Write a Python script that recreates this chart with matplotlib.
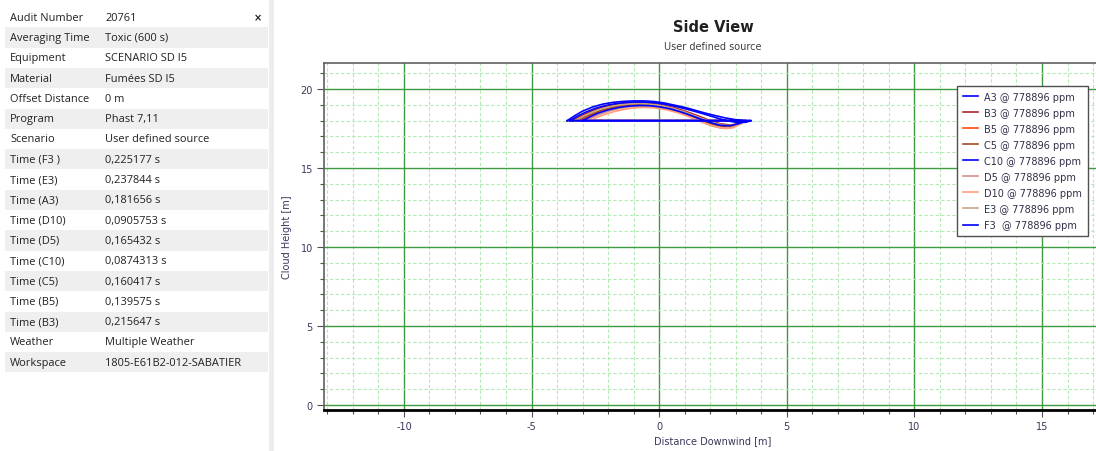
import matplotlib
matplotlib.use("Agg")
import matplotlib.pyplot as plt
from matplotlib.patches import Rectangle
from matplotlib.ticker import MultipleLocator

# ---------------- data ----------------
table_labels = ["Audit Number", "Averaging Time", "Equipment", "Material", "Offset Distance",
                "Program", "Scenario", "Time (F3 )", "Time (E3)", "Time (A3)", "Time (D10)",
                "Time (D5)", "Time (C10)", "Time (C5)", "Time (B5)", "Time (B3)", "Weather",
                "Workspace"]
table_values = ["20761", "Toxic (600 s)", "SCENARIO SD I5", "Fumées SD I5", "0 m", "Phast 7,11",
                "User defined source", "0,225177 s", "0,237844 s", "0,181656 s", "0,0905753 s",
                "0,165432 s", "0,0874313 s", "0,160417 s", "0,139575 s", "0,215647 s",
                "Multiple Weather", "1805-E61B2-012-SABATIER"]

series_names = ["A3", "B3", "B5", "C5", "C10", "D5", "D10", "E3", "F3"]
series_labels = ["A3 @ 778896 ppm", "B3 @ 778896 ppm", "B5 @ 778896 ppm", "C5 @ 778896 ppm",
                 "C10 @ 778896 ppm", "D5 @ 778896 ppm", "D10 @ 778896 ppm", "E3 @ 778896 ppm",
                 "F3  @ 778896 ppm"]
series_colors = ["#0000FF", "#B02828", "#FF4A10", "#A0501E", "#0000FF", "#D48C8C", "#FFA07A",
                 "#C8A484", "#0000FF"]

x_A3 = [-3.6, -3.3, -3.0, -2.6, -2.2, -1.8, -1.4, -1.0, -0.6, -0.2, 0.2, 0.6, 1.0, 1.4, 1.8, 2.2, 2.6, 3.0, 3.3, 3.6]
y_A3 = [18.0, 18.32, 18.6, 18.87, 19.05, 19.16, 19.22, 19.25, 19.25, 19.21, 19.12, 18.98, 18.84, 18.66, 18.48, 18.32, 18.17, 18.06, 18.0, 18.0]
x_B3 = [-3.4, -3.1, -2.8, -2.4, -2.0, -1.6, -1.2, -0.8, -0.4, 0.0, 0.4, 0.8, 1.2, 1.6, 2.0, 2.4, 2.8, 3.1, 3.4]
y_B3 = [18.0, 18.27, 18.5, 18.76, 18.94, 19.06, 19.12, 19.14, 19.11, 19.03, 18.9, 18.72, 18.5, 18.26, 18.0, 17.8, 17.72, 17.82, 18.0]
x_B5 = [-3.1, -2.8, -2.5, -2.1, -1.7, -1.3, -0.9, -0.5, -0.1, 0.3, 0.7, 1.1, 1.5, 1.9, 2.3, 2.6, 2.9, 3.2, 3.35]
y_B5 = [18.0, 18.24, 18.45, 18.68, 18.85, 18.95, 19.0, 18.99, 18.92, 18.8, 18.6, 18.36, 18.08, 17.8, 17.58, 17.52, 17.6, 17.82, 18.0]
x_C5 = [-3.2, -2.9, -2.6, -2.2, -1.8, -1.4, -1.0, -0.6, -0.2, 0.2, 0.6, 1.0, 1.4, 1.8, 2.2, 2.6, 2.9, 3.2, 3.4]
y_C5 = [18.0, 18.25, 18.46, 18.7, 18.87, 18.98, 19.03, 19.03, 18.98, 18.87, 18.7, 18.48, 18.22, 17.95, 17.72, 17.6, 17.65, 17.82, 18.0]
x_C10 = [-3.0, -2.7, -2.4, -2.0, -1.6, -1.2, -0.8, -0.4, 0.0, 0.4, 0.8, 1.2, 1.6, 2.0, 2.4, 2.8, 3.1, 3.4]
y_C10 = [18.0, 18.25, 18.47, 18.68, 18.83, 18.92, 18.96, 18.95, 18.88, 18.76, 18.58, 18.36, 18.12, 17.88, 17.7, 17.68, 17.8, 18.0]
x_D5 = [-2.9, -2.6, -2.3, -1.9, -1.5, -1.1, -0.7, -0.3, 0.1, 0.5, 0.9, 1.3, 1.7, 2.1, 2.5, 2.8, 3.1, 3.3]
y_D5 = [18.0, 18.22, 18.42, 18.64, 18.79, 18.88, 18.91, 18.88, 18.79, 18.64, 18.44, 18.18, 17.9, 17.66, 17.54, 17.56, 17.75, 18.0]
x_D10 = [-2.75, -2.45, -2.15, -1.75, -1.35, -0.95, -0.55, -0.15, 0.25, 0.65, 1.05, 1.45, 1.85, 2.25, 2.6, 2.9, 3.15, 3.3]
y_D10 = [18.0, 18.2, 18.38, 18.58, 18.72, 18.81, 18.84, 18.8, 18.7, 18.54, 18.32, 18.06, 17.8, 17.6, 17.5, 17.55, 17.78, 18.0]
x_E3 = [-3.3, -3.0, -2.7, -2.3, -1.9, -1.5, -1.1, -0.7, -0.3, 0.1, 0.5, 0.9, 1.3, 1.7, 2.1, 2.5, 2.9, 3.2, 3.4]
y_E3 = [18.0, 18.26, 18.48, 18.73, 18.9, 19.01, 19.07, 19.08, 19.04, 18.95, 18.8, 18.6, 18.37, 18.12, 17.88, 17.72, 17.7, 17.85, 18.0]
x_F3 = [-3.5, -3.2, -2.9, -2.5, -2.1, -1.7, -1.3, -0.9, -0.5, -0.1, 0.3, 0.7, 1.1, 1.5, 1.9, 2.3, 2.7, 3.1, 3.4, 3.6]
y_F3 = [18.0, 18.28, 18.52, 18.78, 18.96, 19.08, 19.15, 19.18, 19.17, 19.12, 19.02, 18.88, 18.72, 18.54, 18.35, 18.15, 17.98, 17.88, 17.9, 18.0]

series_x = [x_A3, x_B3, x_B5, x_C5, x_C10, x_D5, x_D10, x_E3, x_F3]
series_y = [y_A3, y_B3, y_B5, y_C5, y_C10, y_D5, y_D10, y_E3, y_F3]

x_ticks = [-10, -5, 0, 5, 10, 15]
y_ticks = [0, 5, 10, 15, 20]

# ---------------- figure ----------------
W, H = 1096, 452
plt.rcParams["font.family"] = ["DejaVu Sans"]
plt.rcParams["axes.unicode_minus"] = False
fig = plt.figure(figsize=(W / 100, H / 100), dpi=100)
fig.patch.set_facecolor("white")

# left property panel
tax = fig.add_axes([0, 0, 275 / W, 1])
tax.set_xlim(0, 275)
tax.set_ylim(H, 0)
tax.axis("off")
row_top = 8.0
row_h = 20.3
txt_col = "#202020"
for i, (lab, val) in enumerate(zip(table_labels, table_values)):
    y0 = row_top + i * row_h
    if i % 2 == 1:
        tax.add_patch(Rectangle((5, y0), 263, row_h, facecolor="#EFEFEF", edgecolor="none"))
    tax.text(10, y0 + row_h / 2, lab, fontsize=7.9, color=txt_col, va="center", ha="left",
             family="Open Sans")
    tax.text(105, y0 + row_h / 2, val, fontsize=7.9, color=txt_col, va="center", ha="left",
             family="Open Sans")
tax.text(258, row_top + row_h / 2, "×", fontsize=7, color="#202020", va="center", ha="center",
         fontweight="bold")
tax.add_patch(Rectangle((269, 0), 5, H, facecolor="#EDEDED", edgecolor="none"))

# main axes
ax = fig.add_axes([324 / W, 41.3 / H, (1102 - 324) / W, (410.7 - 64) / H])
for name, xs, ys, col, lab in zip(series_names, series_x, series_y, series_colors, series_labels):
    z = 4 if col == "#0000FF" else 3
    ax.plot(xs + [xs[0]], ys + [ys[0]], color=col, lw=1.2, label=lab, zorder=z)

ax.set_xlim(-13.13, 17.35)
ax.set_ylim(-0.3, 21.65)
ax.set_xticks(x_ticks)
ax.set_yticks(y_ticks)
ax.xaxis.set_minor_locator(MultipleLocator(1))
ax.yaxis.set_minor_locator(MultipleLocator(1))
ax.grid(which="major", color="#3E9A3E", lw=1.0, ls="-", zorder=1)
ax.grid(which="minor", color="#B4EAB4", lw=0.8, ls=(0, (3, 2)), zorder=0)
ax.set_axisbelow(True)
ax.tick_params(which="major", direction="out", length=5, width=0.8, color="#505050",
               labelsize=7, labelcolor="#38385A", pad=3)
ax.tick_params(which="minor", direction="out", length=3, width=0.8, color="#505050")
ax.spines["right"].set_visible(False)
ax.spines["top"].set_color("#606060")
ax.spines["top"].set_linewidth(1.2)
ax.spines["left"].set_color("#606060")
ax.spines["left"].set_linewidth(1.2)
ax.spines["bottom"].set_color("#000000")
ax.spines["bottom"].set_linewidth(2.0)
ax.set_xlabel("Distance Downwind [m]", fontsize=7, color="#38385A", labelpad=3)
ax.set_ylabel("Cloud Height [m]", fontsize=7, color="#38385A", labelpad=6)

fig.text(713 / W, 1 - 28 / H, "Side View", ha="center", va="center", fontsize=10.5,
         fontweight="bold", color="#202020")
fig.text(713 / W, 1 - 47 / H, "User defined source", ha="center", va="center", fontsize=7,
         color="#404040")

leg = ax.legend(loc="upper left", bbox_to_anchor=(952 / W, 1 - 82 / H),
                bbox_transform=fig.transFigure, fontsize=7, frameon=True, fancybox=False,
                framealpha=1, edgecolor="#505050", handlelength=1.6, handletextpad=0.6,
                labelspacing=0.62, borderpad=0.6)
leg.get_frame().set_linewidth(1.0)
for t in leg.get_texts():
    t.set_color("#303048")

fig.savefig("out.png", dpi=100)
